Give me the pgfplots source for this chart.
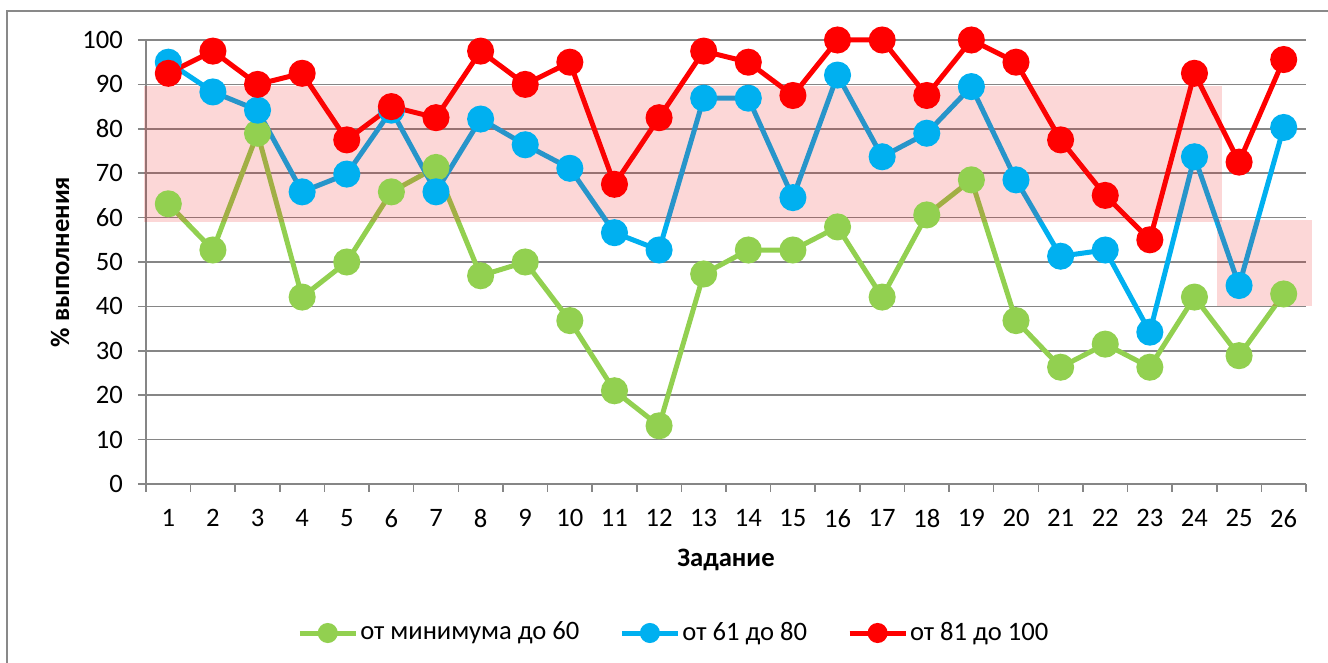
\documentclass[border=0pt]{standalone}
\usepackage{fontspec}
\setmainfont{Carlito}
\usepackage{pgfplots}
\pgfplotsset{compat=1.18}
\definecolor{cgreen}{RGB}{146,208,80}
\definecolor{cblue}{RGB}{0,176,240}
\definecolor{cred}{RGB}{255,0,0}
\definecolor{cgrid}{RGB}{134,134,134}
\definecolor{cframe}{RGB}{137,137,137}
\definecolor{cpink}{RGB}{237,18,18}
\begin{document}
\fontsize{13.3pt}{16pt}\selectfont
\begin{tikzpicture}
\useasboundingbox (-73pt,-89.5pt) rectangle (591pt,242pt);
\draw[cframe, line width=0.75pt] (-69.5pt,-100pt) -- (-69.5pt,236.5pt) -- (620pt,236.5pt);
\begin{axis}[
  at={(0,0)}, anchor=south west,
  scale only axis, width=580pt, height=222pt,
  xmin=0.5, xmax=26.5, ymin=0, ymax=100,
  clip=false,
  axis lines=left, axis line style={-, cgrid, line width=0.75pt},
  xtick={1,...,26}, ytick={0,10,...,100},
  minor xtick={0.5,1.5,...,26.5},
  major x tick style={draw=none},
  minor x tick style={cgrid, line width=0.75pt},
  y tick style={cgrid, line width=0.75pt},
  tick align=outside,
  major tick length=4pt, minor tick length=4pt,
  ymajorgrids, grid style={cgrid, line width=0.75pt},
  /pgf/number format/assume math mode=true,
  yticklabel style={xshift=-3pt},
  xticklabel style={yshift=-4pt},
  xlabel={\textbf{Задание}},
  ylabel={\textbf{\% выполнения}},
  xlabel style={at={(axis description cs:0.5,-0.171)}, anchor=center},
  ylabel style={at={(axis description cs:-0.0741,0.5)}, anchor=center},
  legend columns=3,
  legend style={at={(axis description cs:0.455,-0.3356)}, anchor=center,
    draw=none, fill=none, nodes={inner sep=1pt},
    /tikz/every even column/.append style={column sep=19pt}},
  legend image code/.code={\draw[#1, mark repeat=2, mark phase=2, mark size=3.75pt] plot coordinates {(0pt,0pt) (14pt,0pt) (28pt,0pt)};},
  every axis plot/.append style={line width=2.5pt, mark=*, mark size=5.5pt},
]
\addplot[cgreen, mark options={fill=cgreen, draw=none}] coordinates {
(1,63.1) (2,52.7) (3,79.0) (4,42.1) (5,50.0) (6,65.8) (7,71.3) (8,46.9) (9,50.0) (10,36.8)
(11,21.0) (12,13.1) (13,47.3) (14,52.7) (15,52.7) (16,57.9) (17,42.1) (18,60.6) (19,68.5) (20,36.8)
(21,26.3) (22,31.5) (23,26.3) (24,42.1) (25,28.9) (26,42.8)};
\addlegendentry{от минимума до 60}
\addplot[cblue, mark options={fill=cblue, draw=none}] coordinates {
(1,95.0) (2,88.3) (3,84.2) (4,65.8) (5,69.8) (6,84.2) (7,65.8) (8,82.2) (9,76.4) (10,71.1)
(11,56.6) (12,52.7) (13,86.9) (14,86.9) (15,64.5) (16,92.1) (17,73.7) (18,79.0) (19,89.5) (20,68.5)
(21,51.3) (22,52.7) (23,34.2) (24,73.7) (25,44.7) (26,80.3)};
\addlegendentry{от 61 до 80}
\addplot[cred, mark options={fill=cred, draw=none}] coordinates {
(1,92.5) (2,97.5) (3,90.0) (4,92.5) (5,77.5) (6,85.0) (7,82.5) (8,97.5) (9,90.0) (10,95.0)
(11,67.5) (12,82.5) (13,97.5) (14,95.0) (15,87.5) (16,100) (17,100) (18,87.5) (19,100) (20,95.0)
(21,77.5) (22,65.0) (23,55.0) (24,92.5) (25,72.5) (26,95.6)};
\addlegendentry{от 81 до 100}
\fill[cpink, fill opacity=0.17] (axis cs:0.46,59.1) rectangle (axis cs:24.62,89.6);
\fill[cpink, fill opacity=0.17] (axis cs:24.51,40.1) rectangle (axis cs:26.64,59.5);
\end{axis}
\end{tikzpicture}
\end{document}
